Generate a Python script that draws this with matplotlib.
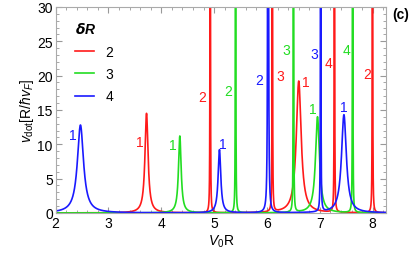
import numpy as np
import matplotlib.pyplot as plt
from matplotlib.ticker import MultipleLocator

plt.rcParams['font.family'] = 'Liberation Sans'
plt.rcParams['mathtext.fontset'] = 'custom'
plt.rcParams['mathtext.rm'] = 'Liberation Sans'
plt.rcParams['mathtext.it'] = 'Liberation Sans:italic'
plt.rcParams['mathtext.bf'] = 'Liberation Sans:bold'

red = '#ff1a1a'
green = '#22dd22'
blue = '#1a1aff'

# resonance peaks: centre, height, half width
red_x0 = [3.72, 4.925, 6.10, 6.60, 7.275, 7.995]
red_h = [14.5, 1000, 1000, 19.2, 1000, 1000]
red_g = [0.035, 0.001, 0.001, 0.055, 0.001, 0.001]

green_x0 = [4.35, 5.405, 6.50, 6.955, 7.62]
green_h = [11.2, 1000, 1000, 14.0, 1000]
green_g = [0.03, 0.001, 0.001, 0.045, 0.001]

blue_x0 = [2.47, 5.10, 6.02, 7.015, 7.455]
blue_h = [12.8, 9.2, 1000, 1000, 14.3]
blue_g = [0.07, 0.03, 0.002, 0.001, 0.055]

# peak labels (x, y, text)
red_labels = [(3.59, 10.4, '1'), (4.78, 16.9, '2'), (6.25, 20.0, '3'),
              (6.73, 19.1, '1'), (7.16, 21.8, '4'), (7.90, 20.2, '2')]
green_labels = [(4.22, 9.9, '1'), (5.27, 17.7, '2'), (6.36, 23.7, '3'),
                (6.87, 15.2, '1'), (7.50, 23.7, '4')]
blue_labels = [(2.32, 11.4, '1'), (5.16, 10.1, '1'), (5.86, 19.4, '2'),
               (6.90, 23.1, '3'), (7.45, 15.4, '1')]

x = np.linspace(2, 8.25, 40001)


def curve(x0s, hs, gs):
    y = np.zeros_like(x)
    for x0, h, g in zip(x0s, hs, gs):
        y += h / (1 + ((x - x0) / g) ** 2)
    return y


fig = plt.figure(figsize=(4.15, 2.55), dpi=100)
ax = fig.add_axes([0.134, 0.161, 0.796, 0.808])

series = [('2', red, red_x0, red_h, red_g, red_labels),
          ('3', green, green_x0, green_h, green_g, green_labels),
          ('4', blue, blue_x0, blue_h, blue_g, blue_labels)]

for name, col, x0s, hs, gs, labs in series:
    ax.plot(x, curve(x0s, hs, gs), color=col, lw=1.2, label=name)
    for lx, ly, t in labs:
        ax.text(lx, ly, t, color=col, fontsize=10, ha='center', va='center')

ax.set_xlim(2, 8.25)
ax.set_ylim(0, 30)
ax.xaxis.set_major_locator(MultipleLocator(1))
ax.xaxis.set_minor_locator(MultipleLocator(0.2))
ax.yaxis.set_major_locator(MultipleLocator(5))
ax.yaxis.set_minor_locator(MultipleLocator(1))
ax.tick_params(which='both', direction='in', top=True, right=True,
               color='#999999', labelsize=10, pad=2)
ax.tick_params(which='major', length=4)
ax.tick_params(which='minor', length=2)
for s in ax.spines.values():
    s.set_color('#aaaaaa')

ax.set_xlabel(r'$V_0{\rm R}$', fontsize=10, labelpad=2)
ax.set_ylabel(r'$v_{\rm dot}[{\rm R}/\hbar v_F]$', fontsize=10, labelpad=1)

leg = ax.legend(loc='upper left', frameon=False, fontsize=10,
                title=r'$\boldsymbol{\delta}$R', handlelength=1.4,
                labelspacing=0.6, bbox_to_anchor=(0.02, 0.99))
leg.get_title().set_fontweight('bold')
leg.get_title().set_fontstyle('italic')
leg._legend_box.align = 'left'

fig.text(0.965, 0.94, '(c)', fontsize=10, fontweight='bold',
         ha='center', va='center')

fig.savefig('out.png', dpi=100)
